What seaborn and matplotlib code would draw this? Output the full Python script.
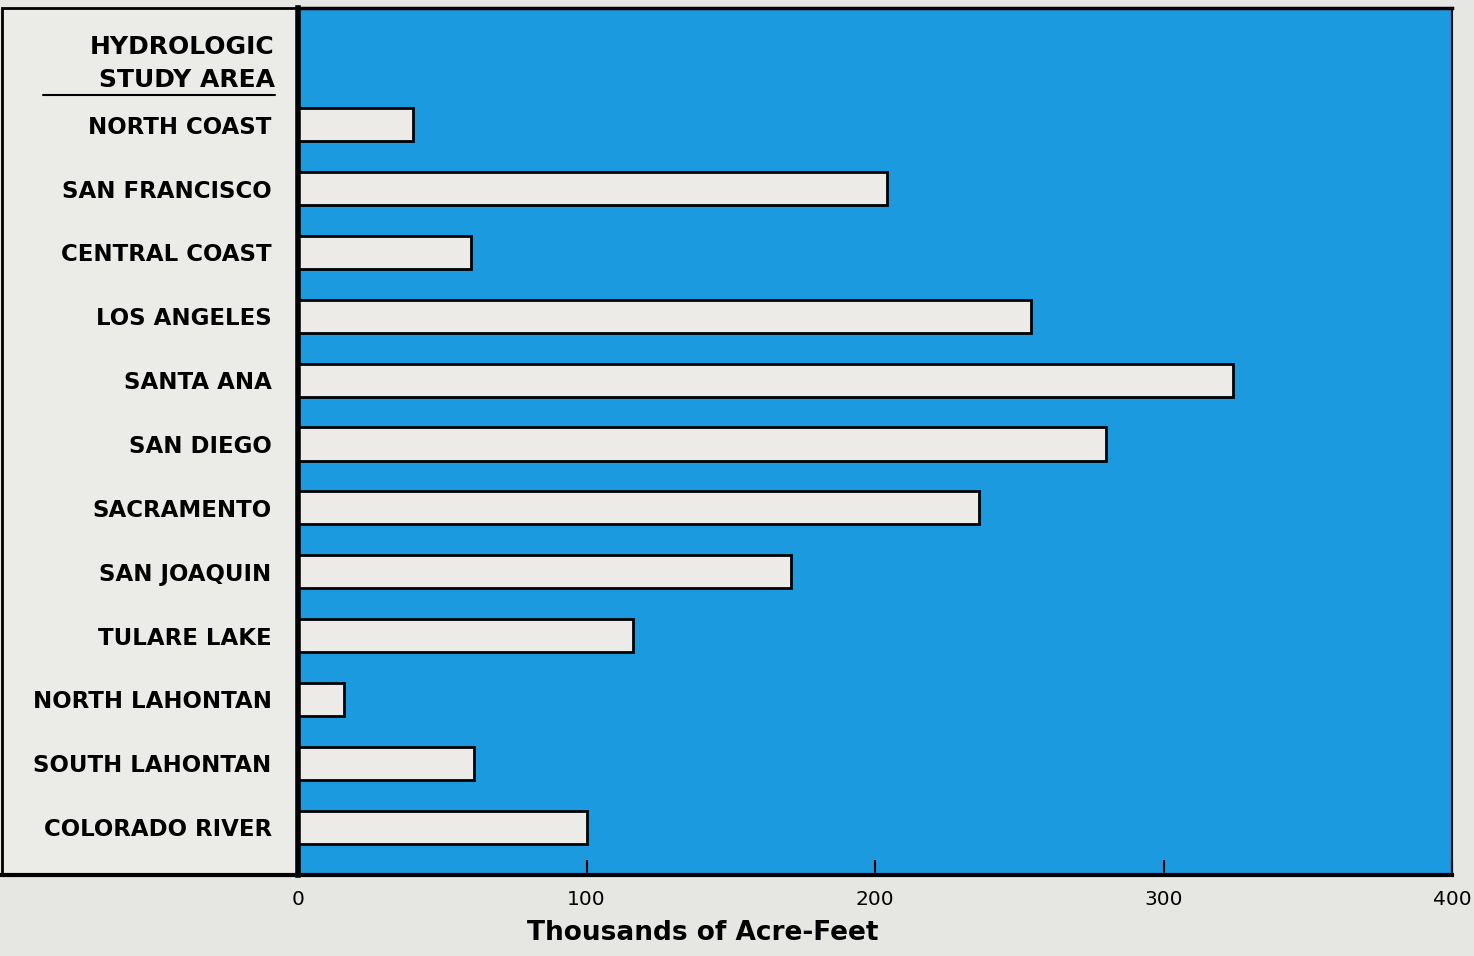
import pandas as pd
import seaborn as sns
import matplotlib.pyplot as plt
from matplotlib.patches import Rectangle
from matplotlib.lines import Line2D

areas = ["NORTH COAST", "SAN FRANCISCO", "CENTRAL COAST", "LOS ANGELES",
         "SANTA ANA", "SAN DIEGO", "SACRAMENTO", "SAN JOAQUIN",
         "TULARE LAKE", "NORTH LAHONTAN", "SOUTH LAHONTAN", "COLORADO RIVER"]
acre_feet = [40, 204, 60, 254, 324, 280, 236, 171, 116, 16, 61, 100]
x_ticks = [0, 100, 200, 300, 400]

df = pd.DataFrame({"area": areas, "value": acre_feet})

sns.set_style("white")
plt.rcParams["font.family"] = ["DejaVu Sans"]
plt.rcParams["text.color"] = "black"
plt.rcParams["xtick.color"] = "black"
plt.rcParams["ytick.color"] = "black"
plt.rcParams["axes.labelcolor"] = "black"

bg = "#e6e6e2"
blue = "#1c9ae0"

fig = plt.figure(figsize=(14.74, 9.56), dpi=100)
fig.patch.set_facecolor(bg)

# left panel box
panel = Rectangle((2 / 1474, 0.0847), 296 / 1474, 0.907, transform=fig.transFigure,
                  facecolor="#ebebe8", edgecolor="black", lw=2, zorder=0)
fig.add_artist(panel)

ax = fig.add_axes([0.2022, 0.0847, 0.7829, 0.907])
ax.set_facecolor(blue)

sns.barplot(data=df, x="value", y="area", orient="h", color="#ecebe7",
            edgecolor="black", linewidth=2, width=0.52, saturation=1, ax=ax)

ax.set_xlim(0, 400)
ax.set_ylim(11.75, -1.83)
ax.set_xticks(x_ticks)
ax.set_xticklabels([str(t) for t in x_ticks], fontsize=14.5)
ax.tick_params(axis="x", bottom=True, direction="in", length=11, width=1.5,
               pad=11, colors="black")
ax.tick_params(axis="y", length=0, pad=19)
for lab in ax.get_yticklabels():
    lab.set_fontsize(16.5)
    lab.set_fontweight("bold")

ax.set_ylabel("")
ax.set_xlabel("Thousands of Acre-Feet", fontsize=19, fontweight="bold")
ax.xaxis.set_label_coords(0.351, -0.052)

for side, lw in [("left", 4), ("bottom", 3), ("top", 2.5), ("right", 1.5)]:
    ax.spines[side].set_color("black")
    ax.spines[side].set_linewidth(lw)

# header of the category column
fig.text(275 / 1474, 1 - 47 / 956, "HYDROLOGIC", ha="right", va="center",
         fontsize=18, fontweight="bold")
fig.text(275 / 1474, 1 - 80 / 956, "STUDY AREA", ha="right", va="center",
         fontsize=18, fontweight="bold")
fig.add_artist(Line2D([43 / 1474, 275 / 1474], [1 - 95 / 956, 1 - 95 / 956],
                      transform=fig.transFigure, color="black", lw=1.5))

# bottom rule running to the left edge
fig.add_artist(Line2D([0, 298 / 1474], [0.0847, 0.0847],
                      transform=fig.transFigure, color="black", lw=3))

fig.savefig("out.png", dpi=100, facecolor=bg)
